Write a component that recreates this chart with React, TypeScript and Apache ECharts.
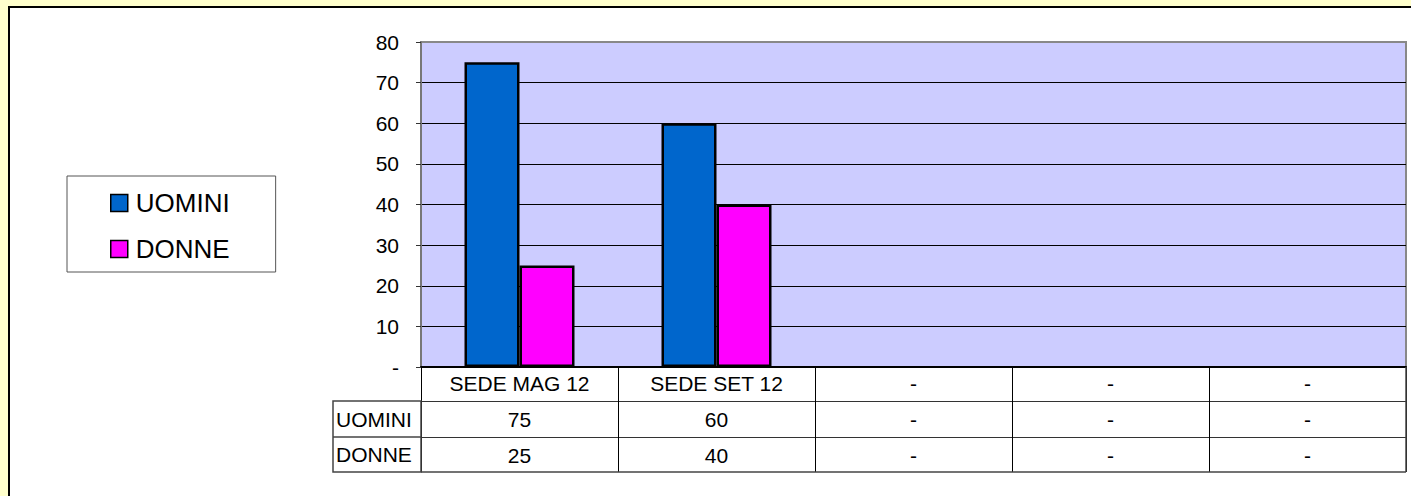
import React, { useEffect, useRef } from "react";
import * as echarts from "echarts";

const categories = ["SEDE MAG 12", "SEDE SET 12", "-", "-", "-"];
const seriesNames = ["UOMINI", "DONNE"];
const uomini: (number | null)[] = [75, 60, null, null, null];
const donne: (number | null)[] = [25, 40, null, null, null];
const yMin = 0;
const yMax = 80;
const yInterval = 10;

const W = 1411;
const H = 496;
const GRID_LEFT = 421;
const GRID_RIGHT_X = 1406;
const GRID_TOP = 42;
const GRID_BOTTOM_Y = 367;
const ROW_H = 35;
const LABEL_COL_X = 333;
const FONT = "'Liberation Sans', Arial, Helvetica, sans-serif";
const FS = 21;

const fmt = (v: number | null) => (v == null ? "-" : String(v));

export default function App() {
  const ref = useRef<HTMLDivElement>(null);
  useEffect(() => {
    document.body.style.margin = "0";
    if (!ref.current) return;
    const chart = echarts.init(ref.current, null, { renderer: "svg" });
    const row1Y = GRID_BOTTOM_Y + ROW_H - 1;
    const row2Y = row1Y + ROW_H + 1;
    const row3Y = row2Y + ROW_H;
    const axisCommon = {
      type: "category" as const,
      position: "bottom" as const,
      axisLine: { show: true, lineStyle: { color: "#333", width: 1 } },
      axisTick: { show: true, inside: false, lineStyle: { color: "#000", width: 1 } },
      axisLabel: {
        interval: 0,
        color: "#000",
        fontSize: FS,
        fontFamily: FONT,
        verticalAlign: "middle" as const,
      },
      splitLine: { show: false },
    };
    chart.setOption({
      animation: false,
      backgroundColor: "#FFFFCC",
      textStyle: { fontFamily: FONT },
      graphic: [
        {
          type: "rect",
          z: -100,
          shape: { x: 9, y: 7, width: W, height: H },
          style: { fill: "#fff", stroke: "#000", lineWidth: 2 },
        },
        {
          type: "rect",
          z: 10,
          shape: { x: LABEL_COL_X, y: row1Y, width: GRID_LEFT - LABEL_COL_X, height: row3Y - row1Y },
          style: { fill: "none", stroke: "#444", lineWidth: 1.5 },
        },
        {
          type: "line",
          z: 10,
          shape: { x1: LABEL_COL_X, y1: row2Y, x2: GRID_LEFT, y2: row2Y },
          style: { stroke: "#444", lineWidth: 1.5 },
        },
        {
          type: "line",
          z: 10,
          shape: { x1: GRID_LEFT, y1: row3Y, x2: GRID_RIGHT_X, y2: row3Y },
          style: { stroke: "#444", lineWidth: 1.5 },
        },
        {
          type: "line",
          z: 10,
          shape: { x1: GRID_RIGHT_X, y1: GRID_BOTTOM_Y, x2: GRID_RIGHT_X, y2: row3Y },
          style: { stroke: "#444", lineWidth: 1.5 },
        },
        {
          type: "text",
          z: 10,
          x: LABEL_COL_X + 3,
          y: (row1Y + row2Y) / 2,
          style: { text: seriesNames[0], fontSize: FS, fontFamily: FONT, fill: "#000", verticalAlign: "middle" },
        },
        {
          type: "text",
          z: 10,
          x: LABEL_COL_X + 3,
          y: (row2Y + row3Y) / 2,
          style: { text: seriesNames[1], fontSize: FS, fontFamily: FONT, fill: "#000", verticalAlign: "middle" },
        },
      ],
      legend: {
        show: true,
        orient: "vertical",
        left: 67,
        top: 176,
        data: seriesNames,
        icon: "rect",
        itemWidth: 17,
        itemHeight: 17,
        itemGap: 20,
        backgroundColor: "#fff",
        borderColor: "#555",
        borderWidth: 1,
        borderRadius: 0,
        padding: [14, 46, 10, 43],
        itemStyle: { borderColor: "#000", borderWidth: 1.5 },
        textStyle: { fontSize: 26, fontFamily: FONT, color: "#000", padding: [0, 0, 0, 3] },
      },
      grid: {
        left: GRID_LEFT,
        right: W - GRID_RIGHT_X,
        top: GRID_TOP,
        bottom: H - GRID_BOTTOM_Y,
        containLabel: false,
        show: true,
        backgroundColor: "#CCCCFF",
        borderColor: "#888",
        borderWidth: 2,
      },
      xAxis: [
        {
          ...axisCommon,
          data: categories,
          offset: 0,
          axisLine: { show: true, lineStyle: { color: "#000", width: 2 } },
          axisTick: { ...axisCommon.axisTick, length: row1Y - GRID_BOTTOM_Y },
          axisLabel: { ...axisCommon.axisLabel, margin: 16 },
        },
        {
          ...axisCommon,
          data: uomini.map(fmt),
          offset: row1Y - GRID_BOTTOM_Y,
          axisTick: { ...axisCommon.axisTick, length: row2Y - row1Y },
          axisLabel: { ...axisCommon.axisLabel, margin: 18 },
        },
        {
          ...axisCommon,
          data: donne.map(fmt),
          offset: row2Y - GRID_BOTTOM_Y,
          axisTick: { ...axisCommon.axisTick, length: row3Y - row2Y },
          axisLabel: { ...axisCommon.axisLabel, margin: 18 },
        },
      ],
      yAxis: {
        type: "value",
        min: yMin,
        max: yMax,
        interval: yInterval,
        axisLine: { show: true, lineStyle: { color: "#777", width: 2 } },
        axisTick: { show: true, inside: false, length: 5, lineStyle: { color: "#333" } },
        axisLabel: {
          color: "#000",
          fontSize: FS,
          fontFamily: FONT,
          margin: 22,
          formatter: (v: number) => (v === 0 ? "-" : String(v)),
        },
        splitLine: { show: true, showMaxLine: false, lineStyle: { color: "#000", width: 1 } },
      },
      series: [
        {
          name: seriesNames[0],
          type: "bar",
          xAxisIndex: 0,
          data: uomini,
          barWidth: 55,
          barGap: "0%",
          itemStyle: { color: "#0066CC", borderColor: "#000", borderWidth: 2.5 },
        },
        {
          name: seriesNames[1],
          type: "bar",
          xAxisIndex: 0,
          data: donne,
          barWidth: 55,
          barGap: "0%",
          itemStyle: { color: "#FF00FF", borderColor: "#000", borderWidth: 2.5 },
        },
      ],
    });
    return () => chart.dispose();
  }, []);
  return <div ref={ref} style={{ width: W, height: H }} />;
}
